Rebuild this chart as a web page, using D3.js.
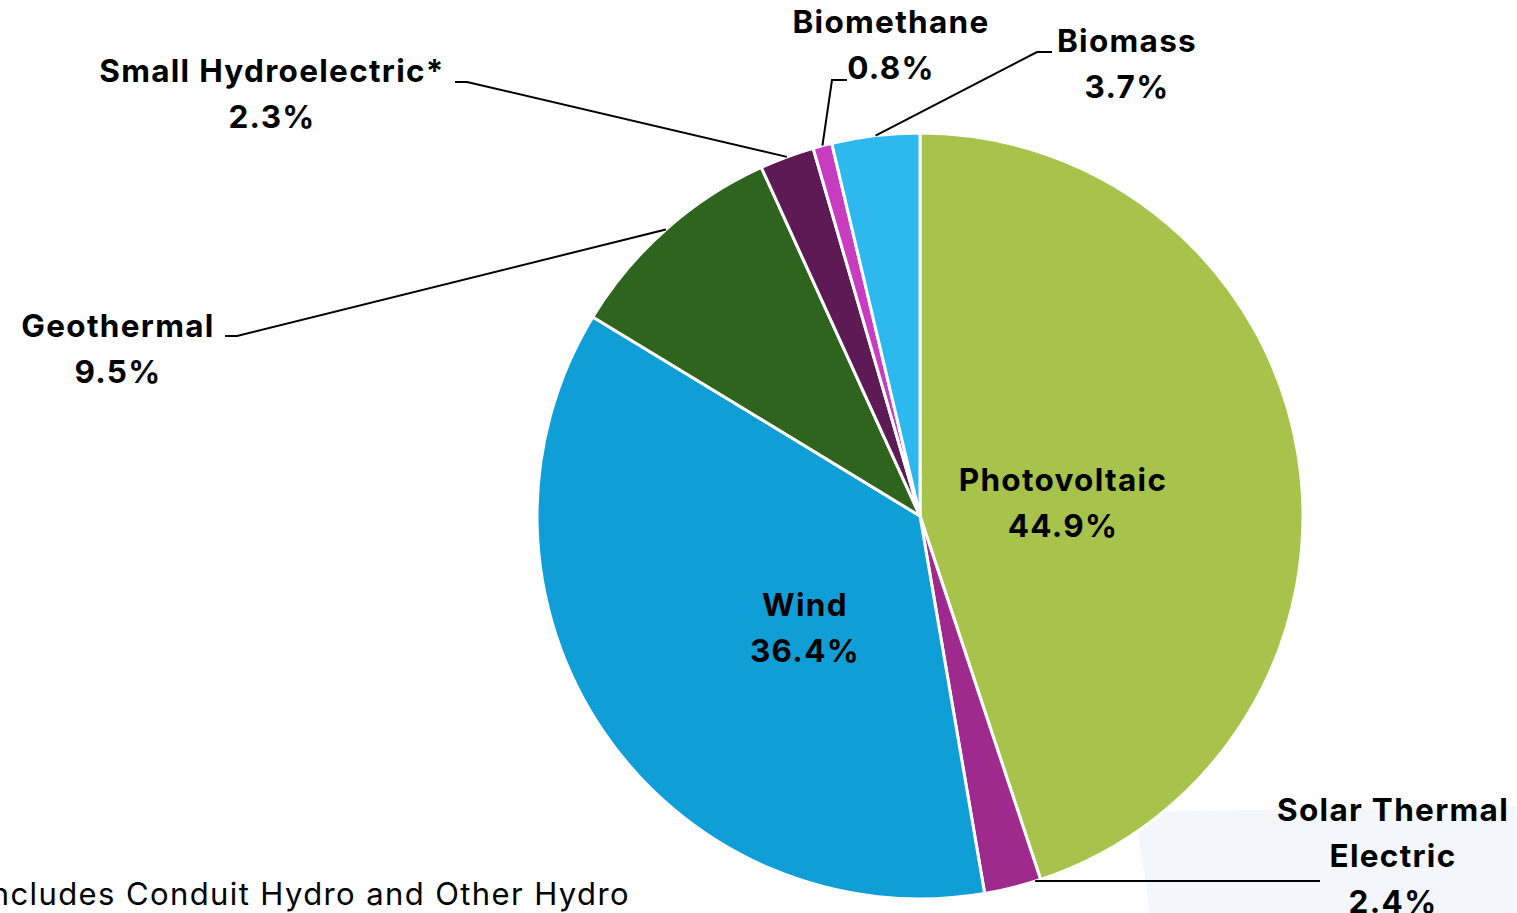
<!DOCTYPE html>
<html>
<head>
<meta charset="utf-8">
<script src="https://cdn.jsdelivr.net/npm/d3@7"></script>
<style>
  html, body { margin: 0; padding: 0; background: #fff; }
  svg { display: block; }
  text { font-family: Inter, "Noto Sans", sans-serif; }
</style>
</head>
<body>
<svg id="chart" width="1517" height="913"></svg>
<script>
// Shares of renewable generation, clockwise from 12 o'clock
var categories = ["Photovoltaic", "Solar Thermal Electric", "Wind", "Geothermal",
  "Small Hydroelectric*", "Biomethane", "Biomass"];
var shares = [44.9, 2.4, 36.4, 9.5, 2.3, 0.8, 3.7];
var colors = ["#a8c34b", "#9e2a8e", "#109ed6", "#2f641e", "#5e1a55", "#c83dbf", "#2db8ee"];
var footnote = "*Includes Conduit Hydro and Other Hydro";

var width = 1517, height = 913;
var cx = 920, cy = 516, radius = 383;

var svg = d3.select("#chart");

// faint background decoration in the lower right corner
svg.append("polygon")
  .attr("points", "1135,812 1517,806 1517,913 1150,913")
  .attr("fill", "#f3f7fc");

var g = svg.append("g").attr("transform", "translate(" + cx + "," + cy + ")");

var pie = d3.pie().sort(null).value(function (d) { return d; });
var arcs = pie(shares);

var arc = d3.arc().innerRadius(0).outerRadius(radius);

g.selectAll("path.slice")
  .data(arcs)
  .enter().append("path")
  .attr("class", "slice")
  .attr("d", arc)
  .attr("fill", function (d, i) { return colors[i]; })
  .attr("stroke", "#fff")
  .attr("stroke-width", 3)
  .attr("stroke-linejoin", "round");

// label placement (layout only). lines = text lines, x = centre, y = first baseline
var layout = {
  "Photovoltaic": { x: 1063, y: 491, lines: ["Photovoltaic"] },
  "Wind": { x: 805, y: 616, lines: ["Wind"] },
  "Solar Thermal Electric": { x: 1393, y: 821, lines: ["Solar Thermal", "Electric"],
    at: 0.1, leader: [[1320, 881]] },
  "Geothermal": { x: 118, y: 337, lines: ["Geothermal"], leader: [[237, 336], [225, 336]] },
  "Small Hydroelectric*": { x: 272, y: 82, lines: ["Small Hydroelectric*"], leader: [[467, 82], [455, 82]] },
  "Biomethane": { x: 891, y: 33, lines: ["Biomethane"], leader: [[832, 80], [847, 80]] },
  "Biomass": { x: 1127, y: 52, lines: ["Biomass"], leader: [[1037, 52], [1052, 52]] }
};

var lineGap = 46;

arcs.forEach(function (a, i) {
  var L = layout[categories[i]];
  if (L.leader) {
    var f = L.at === undefined ? 0.5 : L.at;
    var ang = a.startAngle + (a.endAngle - a.startAngle) * f;
    var p0 = [cx + radius * Math.sin(ang), cy - radius * Math.cos(ang)];
    if (L.at !== undefined) p0[1] = L.leader[0][1];
    var pts = [p0].concat(L.leader);
    svg.append("path")
      .attr("d", d3.line()(pts))
      .attr("fill", "none")
      .attr("stroke", "#000")
      .attr("stroke-width", 2);
  }
  var lines = L.lines.concat([d3.format(".1f")(shares[i]) + "%"]);
  var t = svg.append("text")
    .attr("text-anchor", "middle")
    .attr("font-weight", 700)
    .attr("font-size", 31.5)
    .attr("letter-spacing", 1.3)
    .attr("fill", "#000");
  lines.forEach(function (s, k) {
    t.append("tspan").attr("x", L.x).attr("y", L.y + k * lineGap).text(s);
  });
});

svg.append("text")
  .attr("x", 630)
  .attr("y", 905)
  .attr("text-anchor", "end")
  .attr("font-size", 31)
  .attr("letter-spacing", 1.4)
  .attr("fill", "#000")
  .text(footnote);
</script>
</body>
</html>
